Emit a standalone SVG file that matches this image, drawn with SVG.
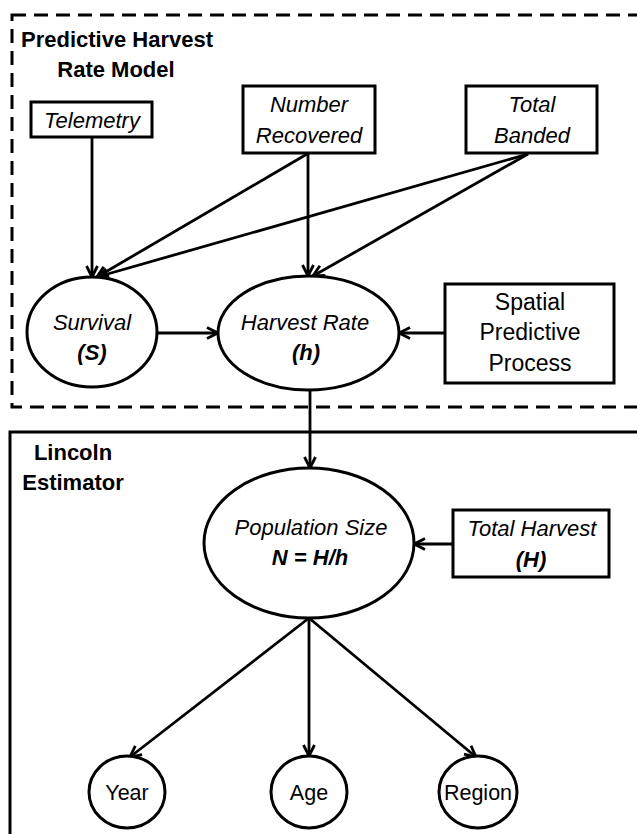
<svg xmlns="http://www.w3.org/2000/svg" width="637" height="834" viewBox="0 0 637 834">
<style>
.shape{fill:#fff;stroke:#000;stroke-width:3}
.frame{fill:none;stroke:#000;stroke-width:3}
.dash{fill:none;stroke:#000;stroke-width:3;stroke-dasharray:14 8}
.con{fill:none;stroke:#000;stroke-width:2.8;marker-end:url(#arr)}
text{font-family:"Liberation Sans",Arial,sans-serif;font-size:22px;fill:#000;text-anchor:middle}
.i{font-style:italic}
.b{font-weight:bold}
.bi{font-weight:bold;font-style:italic}
.big{font-size:23px}
.sm{font-size:21.5px}
</style>
<defs>
<marker id="arr" viewBox="0 0 14 14" refX="12.5" refY="7" markerWidth="14" markerHeight="14" markerUnits="userSpaceOnUse" orient="auto">
<path d="M1.5,1.5 L12.5,7 L1.5,12.5" fill="none" stroke="#000" stroke-width="2.8" stroke-linejoin="miter"/>
</marker>
</defs>
<rect fill="#fff" x="0" y="0" width="637" height="834"/>
<g id="frame-predictive">
<rect class="dash" x="12" y="15" width="700" height="392"/>
<text class="b" x="117" y="47">Predictive Harvest</text>
<text class="b" x="116" y="77">Rate Model</text>
</g>
<g id="frame-lincoln">
<rect class="frame" x="10" y="432" width="700" height="500"/>
<text class="b" x="73" y="460">Lincoln</text>
<text class="b" x="73" y="490">Estimator</text>
</g>
<g id="connectors">
<line class="con" x1="92" y1="137" x2="92" y2="277"/>
<line class="con" x1="307" y1="154" x2="97" y2="277"/>
<line class="con" x1="308" y1="154" x2="308" y2="276"/>
<line class="con" x1="528" y1="154" x2="97" y2="277"/>
<line class="con" x1="528" y1="154" x2="313" y2="276"/>
<line class="con" x1="157" y1="333" x2="218" y2="333"/>
<line class="con" x1="445" y1="333" x2="399" y2="333"/>
<line class="con" x1="310" y1="390" x2="310" y2="468"/>
<line class="con" x1="453" y1="544" x2="414" y2="544"/>
<line class="con" x1="309" y1="618" x2="130" y2="757"/>
<line class="con" x1="309" y1="618" x2="309" y2="756"/>
<line class="con" x1="309" y1="618" x2="476" y2="757"/>
</g>
<g id="telemetry">
<rect class="shape" x="31" y="102" width="121" height="35"/>
<text class="i" x="92" y="128">Telemetry</text>
</g>
<g id="number-recovered">
<rect class="shape" x="243" y="86" width="132" height="67"/>
<text class="i" x="309" y="112">Number</text>
<text class="i" x="309" y="143">Recovered</text>
</g>
<g id="total-banded">
<rect class="shape" x="466" y="86" width="131" height="67"/>
<text class="i" x="532" y="112">Total</text>
<text class="i" x="532" y="143">Banded</text>
</g>
<g id="survival">
<ellipse class="shape" cx="92" cy="332" rx="65" ry="55"/>
<text class="i" x="92" y="330">Survival</text>
<text class="bi" x="92" y="360">(S)</text>
</g>
<g id="harvest-rate">
<ellipse class="shape" cx="308.5" cy="333" rx="90.5" ry="57"/>
<text class="i" x="305" y="330">Harvest Rate</text>
<text class="bi" x="306" y="360">(h)</text>
</g>
<g id="spatial">
<rect class="shape" x="445" y="284" width="169" height="99"/>
<text class="big" x="530" y="310">Spatial</text>
<text class="big" x="530" y="340">Predictive</text>
<text class="big" x="530" y="371">Process</text>
</g>
<g id="population-size">
<ellipse class="shape" cx="309" cy="543" rx="105" ry="75"/>
<text class="i" x="311" y="535">Population Size</text>
<text class="bi" x="310" y="565">N = H/h</text>
</g>
<g id="total-harvest">
<rect class="shape" x="453" y="510" width="156" height="67"/>
<text class="i" x="532" y="536">Total Harvest</text>
<text class="bi" x="531" y="567">(H)</text>
</g>
<g id="year">
<ellipse class="shape" cx="127" cy="792" rx="38" ry="36"/>
<text class="sm" x="127" y="800">Year</text>
</g>
<g id="age">
<ellipse class="shape" cx="309" cy="792" rx="38" ry="36"/>
<text class="sm" x="309" y="800">Age</text>
</g>
<g id="region">
<ellipse class="shape" cx="478" cy="792" rx="39" ry="36"/>
<text class="sm" x="478" y="800">Region</text>
</g>
</svg>
